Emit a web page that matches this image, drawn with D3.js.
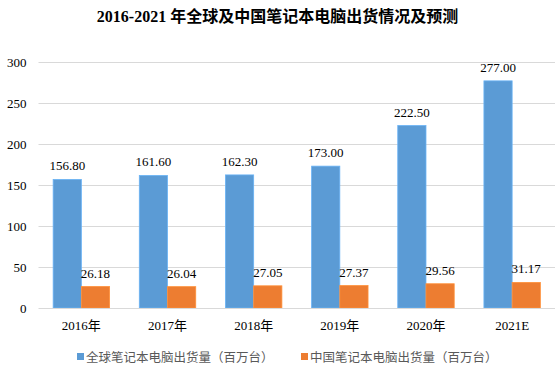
<!DOCTYPE html>
<html><head><meta charset="utf-8">
<script src="https://cdn.jsdelivr.net/npm/d3@7"></script>
<style>body{margin:0;background:#fff}svg{display:block}</style>
</head><body><svg id="c" width="555" height="374"></svg>
<script>
const categories = ["2016年","2017年","2018年","2019年","2020年","2021E"];
const seriesNames = ["全球笔记本电脑出货量（百万台）","中国笔记本电脑出货量（百万台）"];
const globalValues = [156.80,161.60,162.30,173.00,222.50,277.00];
const chinaValues = [26.18,26.04,27.05,27.37,29.56,31.17];
const yTicks = [0,50,100,150,200,250,300];
const colors = ["#5B9BD5","#ED7D31"];
const title = "2016-2021 年全球及中国笔记本电脑出货情况及预测";

const svg = d3.select("#c");
const m = {l:38.5, r:0, t:62, b:66};
const W = 555, H = 374;
const x = d3.scaleBand().domain(categories).range([m.l, W - m.r]).paddingInner(0.345).paddingOuter(0.17);
const x1 = d3.scaleBand().domain([0,1]).range([0, x.bandwidth()]);
const y = d3.scaleLinear().domain([0,300]).range([308, 62]);
const serif = "'Liberation Serif','Times New Roman','Noto Sans CJK SC',serif";

svg.append("text").attr("x", 277.5).attr("y", 22).attr("text-anchor","middle")
  .attr("font-family", serif).attr("font-weight","bold").attr("font-size",16).attr("fill","#000")
  .text(title);

// gridlines
svg.append("g").selectAll("line").data(yTicks.filter(d=>d>0)).join("line")
  .attr("x1", m.l).attr("x2", W).attr("y1", d=>y(d)+0.5).attr("y2", d=>y(d)+0.5)
  .attr("stroke","#d9d9d9").attr("stroke-width",1);

const yAxis = svg.append("g").attr("transform",`translate(${m.l},0)`)
  .call(d3.axisLeft(y).tickValues(yTicks).tickSize(0).tickPadding(12));
yAxis.select(".domain").remove();
yAxis.selectAll("text").attr("font-family", serif).attr("font-size",13).attr("fill","#000");

const series = [globalValues, chinaValues];
series.forEach((vals, si) => {
  const g = svg.append("g");
  g.selectAll("rect").data(vals).join("rect")
    .attr("x", (d,i)=>x(categories[i]) + x1(si))
    .attr("width", x1.bandwidth())
    .attr("y", d=>y(d)).attr("height", d=>y(0)-y(d))
    .attr("fill", colors[si]).attr("stroke", d3.color(colors[si]).brighter(0.4)).attr("stroke-width",0.8);
  g.selectAll("text").data(vals).join("text")
    .attr("x", (d,i)=>x(categories[i]) + x1(si) + x1.bandwidth()/2)
    .attr("y", d=>y(d) - 9)
    .attr("text-anchor","middle").attr("font-family", serif).attr("font-size",13).attr("fill","#000")
    .text(d=>d.toFixed(2));
});

// x axis
svg.append("line").attr("x1", m.l).attr("x2", W).attr("y1", y(0)+0.5).attr("y2", y(0)+0.5)
  .attr("stroke","#d9d9d9").attr("stroke-width",1.2);
const xAxis = svg.append("g").attr("transform",`translate(0,${y(0)})`)
  .call(d3.axisBottom(x).tickSize(0).tickPadding(13));
xAxis.select(".domain").remove();
xAxis.selectAll("text").attr("font-family", serif).attr("font-size",13).attr("fill","#000");

// legend
const legX = [77, 301];
seriesNames.forEach((n, i) => {
  const g = svg.append("g").attr("transform",`translate(${legX[i]},357)`);
  g.append("rect").attr("x",0).attr("y",-4).attr("width",7).attr("height",7).attr("fill",colors[i]);
  g.append("text").attr("x",9).attr("y",5).attr("font-family","'Noto Sans CJK SC',sans-serif")
    .attr("font-size",12.5).attr("fill","#595959").text(n);
});
</script></body></html>
